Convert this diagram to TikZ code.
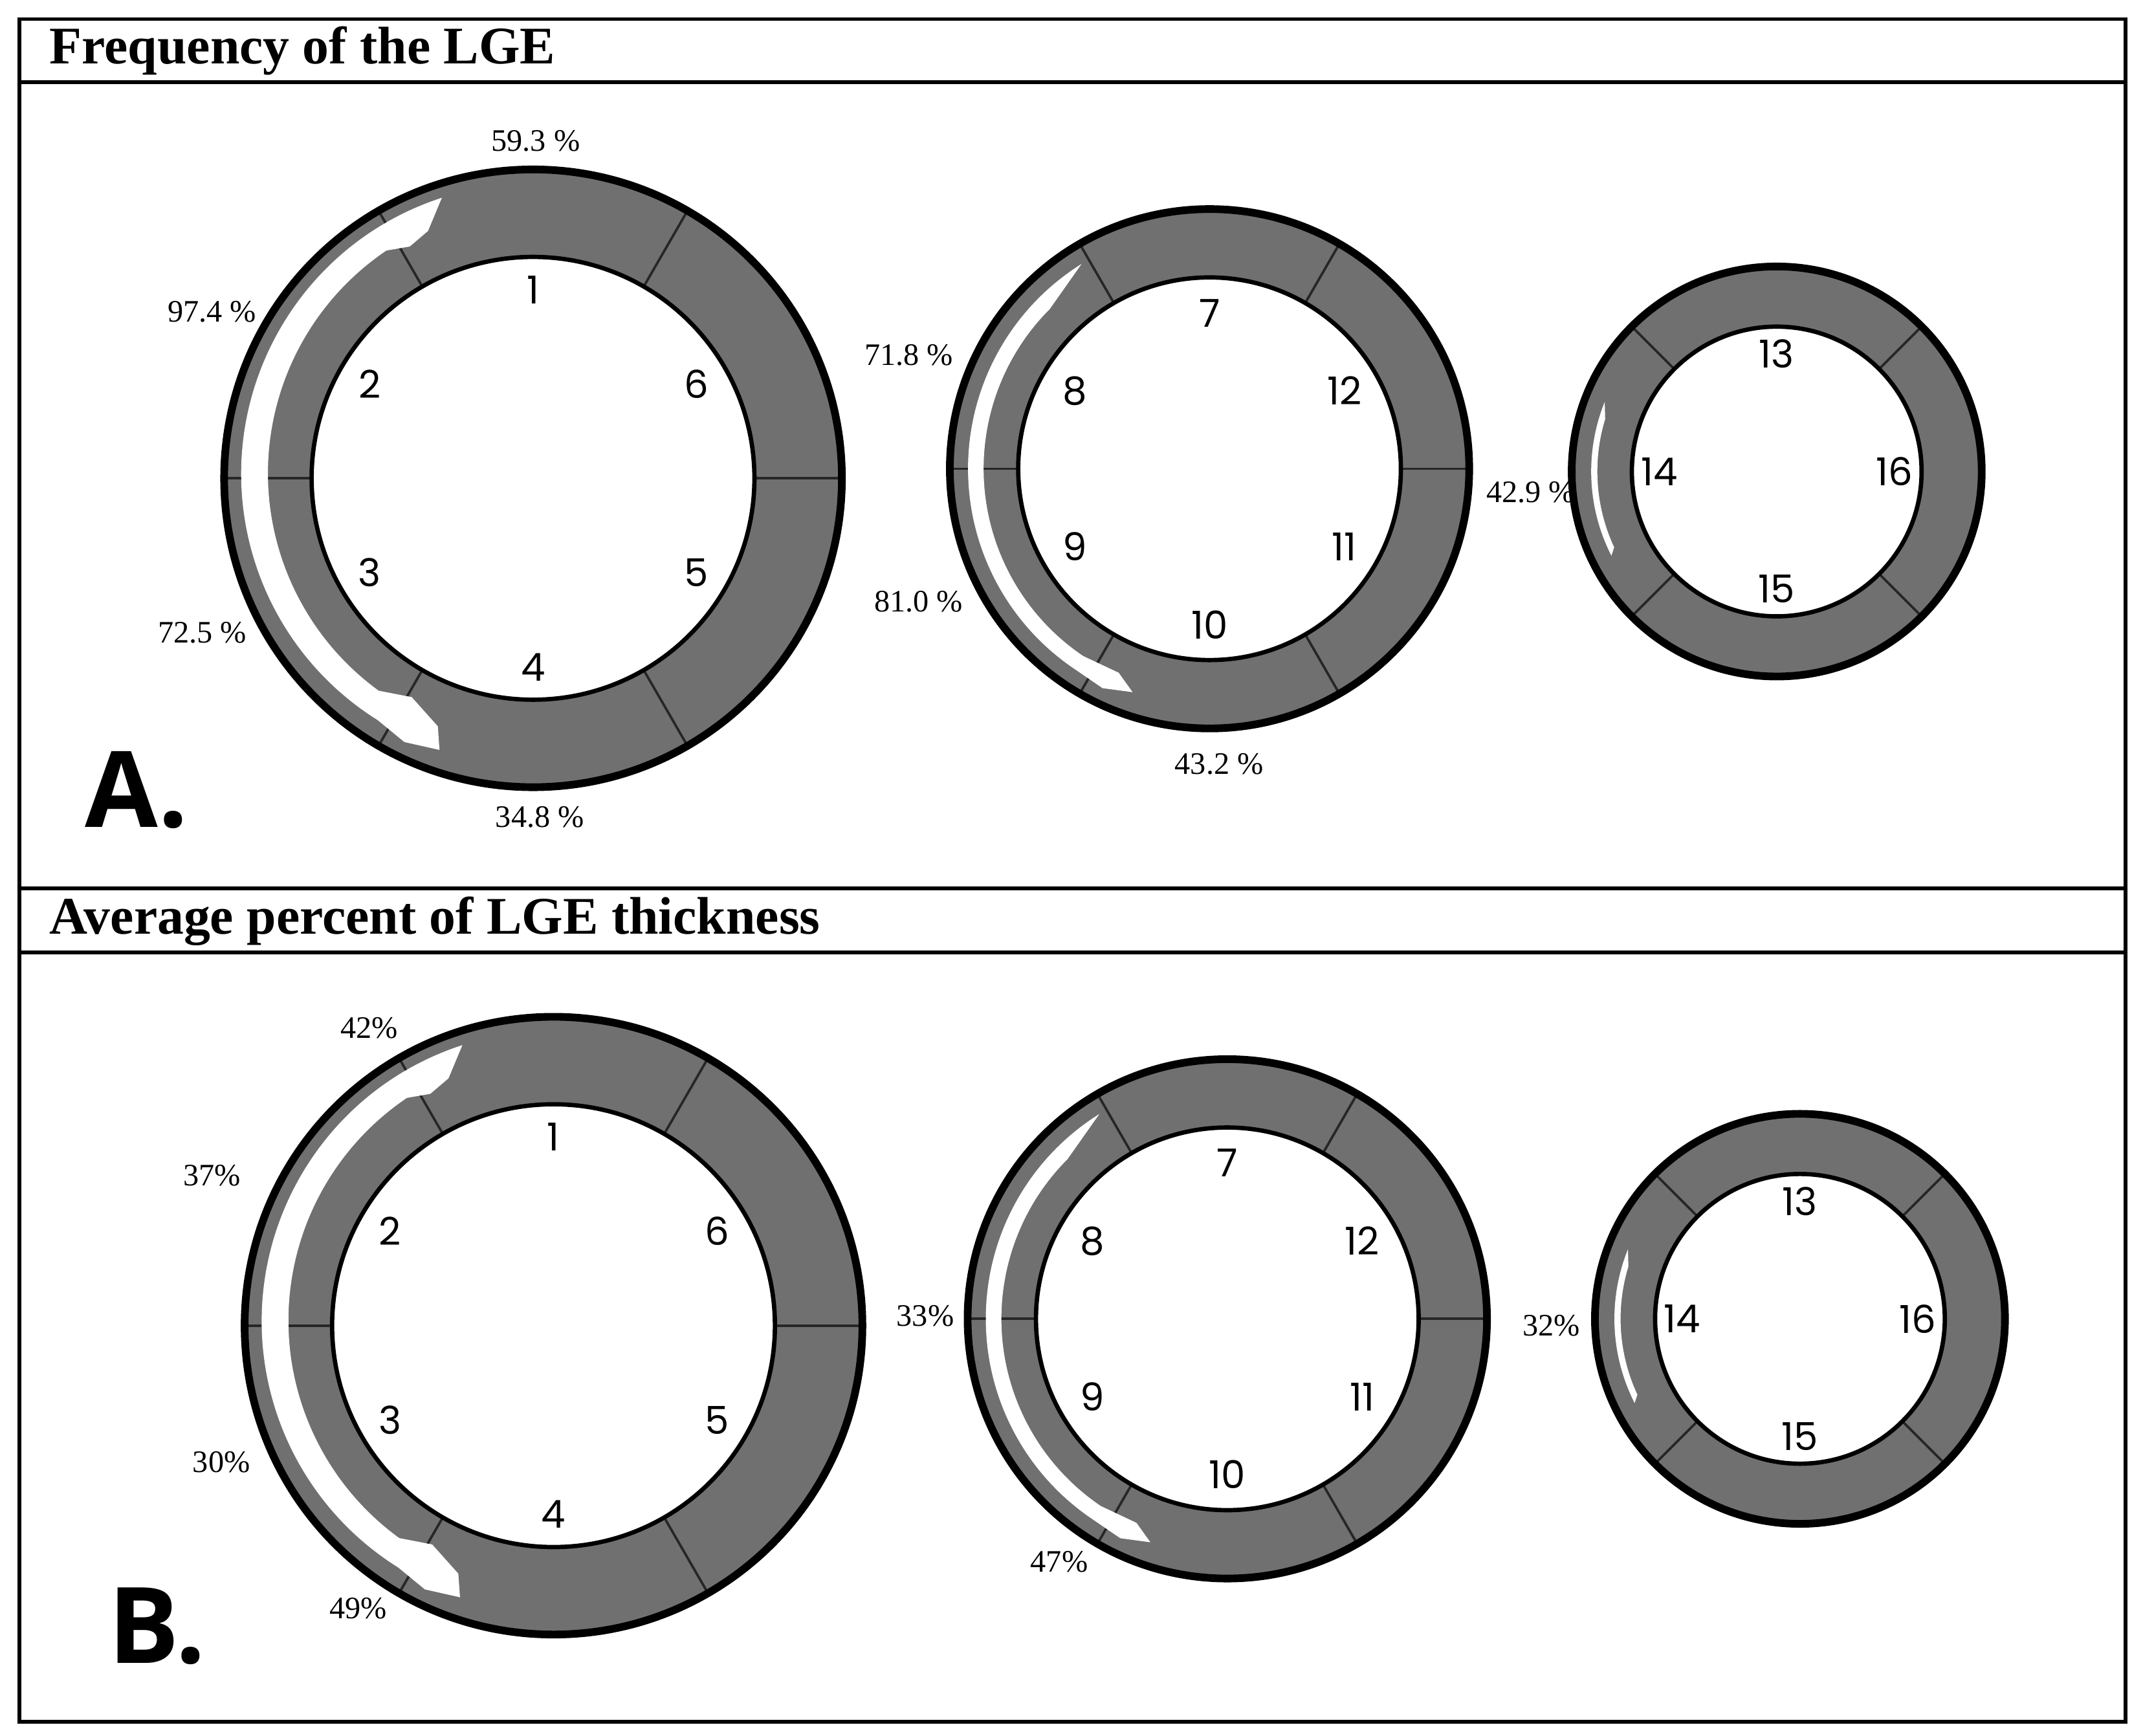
\documentclass[tikz,border=0pt]{standalone}
\usepackage{fontspec}
\setmainfont{Liberation Serif}
\newfontfamily\numf{Poppins}
\newfontfamily\bigf{Open Sans}
\begin{document}
\begin{tikzpicture}[x=0.01cm,y=0.01cm,
  ringfill/.style={fill=black!56},
  pct/.style={font=\fontsize{6.5}{7}\selectfont},
  num/.style={font=\numf\fontsize{8}{9}\selectfont},
  ttl/.style={font=\bfseries\fontsize{11}{12}\selectfont,anchor=west},
  lett/.style={font=\bigf\bfseries\fontsize{22}{24}\selectfont}]
\useasboundingbox (0,0) rectangle (1568,1270);
\newcommand\myring[5]{% cx cy R r angles-list
  \begin{scope}[shift={(#1,#2)}]
  \fill[ringfill,even odd rule] (0,0) circle[radius=#3] (0,0) circle[radius=#4];
  \foreach \a in {#5} \draw[black!85,line width=0.5pt] (\a:#4) -- (\a:#3);
  \draw[line width=1.6pt] (0,0) circle[radius=#3];
  \draw[line width=0.9pt] (0,0) circle[radius=#4];
  \end{scope}}
\newcommand\bigstreak[3]{\pgfmathsetlengthmacro\RR{#3*0.01cm}\begin{scope}[shift={(#1,#2)}]
  \fill[white] (108:0.955*\RR) arc[start angle=108,end angle=238,radius=0.94*\RR] -- (244:0.95*\RR) -- (251:0.93*\RR) -- (249:0.86*\RR) -- (241:0.81*\RR) -- (234:0.85*\RR) arc[start angle=234,end angle=124,radius=0.87*\RR] -- (118:0.85*\RR) -- (113:0.87*\RR) -- cycle;
  \end{scope}}
\newcommand\midstreak[3]{\pgfmathsetlengthmacro\RR{#3*0.01cm}\begin{scope}[shift={(#1,#2)}]
  \fill[white] (122:0.93*\RR) arc[start angle=122,end angle=236,radius=0.93*\RR] -- (244:0.94*\RR) -- (251:0.91*\RR) -- (246:0.86*\RR) -- (236:0.87*\RR) arc[start angle=236,end angle=135,radius=0.87*\RR] -- cycle;
  \end{scope}}
\newcommand\smallstreak[3]{\pgfmathsetlengthmacro\RR{#3*0.01cm}\begin{scope}[shift={(#1,#2)}]
  \fill[white] (158:0.905*\RR) arc[start angle=158,end angle=207,radius=0.905*\RR] -- (205:0.875*\RR) arc[start angle=205,end angle=163,radius=0.875*\RR] -- cycle;
  \end{scope}}
% frame
\draw[line width=0.8pt] (14,10) rectangle (1555,1256);
\draw[line width=0.8pt] (14,1210) -- (1555,1210);
\draw[line width=0.8pt] (14,620) -- (1555,620);
\draw[line width=0.8pt] (14,573) -- (1555,573);
\node[ttl] (tA) at (24,1233) {Frequency of the LGE};
\node[ttl] (tB) at (24,596) {Average percent of LGE thickness};
% Panel A
\myring{390}{920}{226}{162}{0,60,120,180,240,300}
\bigstreak{390}{920}{226}
\myring{885}{927}{190}{140}{0,60,120,180,240,300}
\midstreak{885}{927}{190}
\myring{1300}{925}{150}{106}{45,135,225,315}
\smallstreak{1300}{925}{150}
\begin{scope}[shift={(390,920)}]
\foreach \n/\a in {1/90,2/150,3/210,4/270,5/330,6/30} \node[num] at (\a:138) {\n};
\end{scope}
\begin{scope}[shift={(885,927)}]
\foreach \n/\a in {7/90,8/150,9/210,10/270,11/330,12/30} \node[num] at (\a:114) {\n};
\end{scope}
\begin{scope}[shift={(1300,925)}]
\foreach \n/\a in {13/90,14/180,15/270,16/0} \node[num] at (\a:86) {\n};
\end{scope}
\node[pct] (a1) at (392,1167) {59.3 \%};
\node[pct] (a2) at (155,1042) {97.4 \%};
\node[pct] (a3) at (148,807) {72.5 \%};
\node[pct] (a4) at (395,672) {34.8 \%};
\node[pct] (a5) at (665,1010) {71.8 \%};
\node[pct] (a6) at (672,830) {81.0 \%};
\node[pct] (a7) at (892,711) {43.2 \%};
\node[pct] (a8) at (1120,910) {42.9 \%};
\node[lett] (A) at (100,692) {A.};
% Panel B
\myring{405}{300}{226}{162}{0,60,120,180,240,300}
\bigstreak{405}{300}{226}
\myring{898}{305}{190}{140}{0,60,120,180,240,300}
\midstreak{898}{305}{190}
\myring{1317}{305}{150}{106}{45,135,225,315}
\smallstreak{1317}{305}{150}
\begin{scope}[shift={(405,300)}]
\foreach \n/\a in {1/90,2/150,3/210,4/270,5/330,6/30} \node[num] at (\a:138) {\n};
\end{scope}
\begin{scope}[shift={(898,305)}]
\foreach \n/\a in {7/90,8/150,9/210,10/270,11/330,12/30} \node[num] at (\a:114) {\n};
\end{scope}
\begin{scope}[shift={(1317,305)}]
\foreach \n/\a in {13/90,14/180,15/270,16/0} \node[num] at (\a:86) {\n};
\end{scope}
\node[pct] (b1) at (270,518) {42\%};
\node[pct] (b2) at (155,410) {37\%};
\node[pct] (b3) at (162,200) {30\%};
\node[pct] (b4) at (262,93) {49\%};
\node[pct] (b5) at (677,307) {33\%};
\node[pct] (b6) at (775,127) {47\%};
\node[pct] (b7) at (1135,300) {32\%};
\node[lett] (B) at (115,80) {B.};
\end{tikzpicture}
\end{document}
